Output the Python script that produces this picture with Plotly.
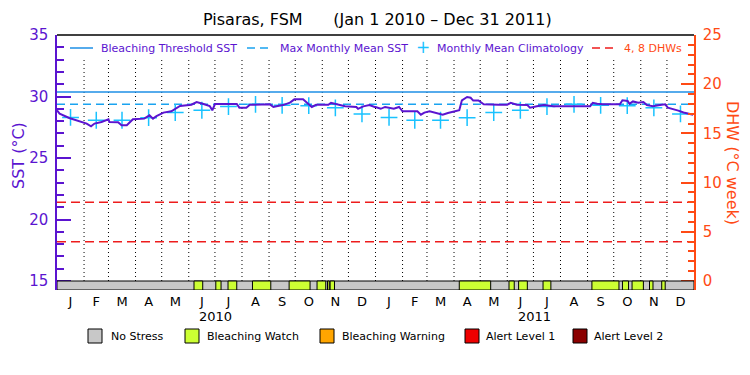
import plotly.graph_objects as go
import pandas as pd

# ---------------- data ----------------
sst_dates = [
    "2010-01-01", "2010-01-04", "2010-01-15", "2010-01-27", "2010-02-04", "2010-02-09",
    "2010-02-13", "2010-02-21", "2010-03-01", "2010-03-02", "2010-03-12", "2010-03-16",
    "2010-03-22", "2010-03-29", "2010-04-11", "2010-04-17", "2010-04-21", "2010-04-25",
    "2010-05-03", "2010-05-12", "2010-05-22", "2010-06-04", "2010-06-10", "2010-06-17",
    "2010-06-25", "2010-06-28", "2010-07-01", "2010-07-26", "2010-07-29", "2010-08-06",
    "2010-08-10", "2010-09-02", "2010-09-06", "2010-09-11", "2010-09-17", "2010-09-25",
    "2010-09-30", "2010-10-10", "2010-10-16", "2010-10-20", "2010-10-25", "2010-11-08",
    "2010-11-11", "2010-11-17", "2010-11-27", "2010-12-10", "2010-12-12", "2010-12-18",
    "2010-12-25", "2010-12-31",
    "2011-01-01", "2011-01-07", "2011-01-12", "2011-01-22", "2011-01-28", "2011-02-01",
    "2011-02-18", "2011-02-22", "2011-02-26", "2011-03-04", "2011-03-11", "2011-03-15",
    "2011-03-19", "2011-03-25", "2011-04-05", "2011-04-07", "2011-04-10", "2011-04-16",
    "2011-04-20", "2011-04-23", "2011-04-29", "2011-05-05", "2011-05-22", "2011-06-01",
    "2011-06-05", "2011-06-12", "2011-06-24", "2011-06-27", "2011-07-05", "2011-07-13",
    "2011-07-24", "2011-08-12", "2011-09-04", "2011-09-07", "2011-09-12", "2011-09-19",
    "2011-10-08", "2011-10-11", "2011-10-17", "2011-10-19", "2011-10-23", "2011-10-29",
    "2011-11-04", "2011-11-08", "2011-11-15", "2011-11-23", "2011-11-29", "2011-12-02",
    "2011-12-08", "2011-12-14", "2011-12-20", "2011-12-26", "2011-12-31",
]
sst_values = [
    28.88, 28.60, 28.25, 27.98, 27.80, 27.57,
    27.80, 27.93, 28.15, 27.93, 27.90, 27.66,
    27.66, 28.15, 28.20, 28.47, 28.20, 28.40,
    28.69, 28.80, 29.23, 29.33, 29.55, 29.41,
    29.23, 28.88, 29.39, 29.39, 29.09, 29.09,
    29.33, 29.36, 29.15, 29.23, 29.30, 29.50,
    29.77, 29.77, 29.41, 29.15, 29.33, 29.33,
    29.49, 29.36, 29.20, 29.15, 29.00, 29.20,
    29.30, 29.15,
    29.15, 29.00, 29.15, 29.00, 29.15, 28.80,
    28.80, 28.52, 28.69, 28.80, 28.66, 28.57,
    28.52, 28.66, 28.88, 28.88, 29.69, 29.96,
    29.90, 29.67, 29.67, 29.36, 29.33, 29.33,
    29.49, 29.33, 29.30, 29.09, 29.20, 29.30,
    29.20, 29.20, 29.20, 29.49, 29.41, 29.36,
    29.36, 29.69, 29.63, 29.41, 29.60, 29.49,
    29.55, 29.30, 29.20, 29.30, 29.36, 29.09,
    29.00, 28.85, 28.70, 28.57, 28.52,
]

clim_values = [28.30, 28.07, 28.07, 28.28, 28.70, 28.88, 29.18, 29.36, 29.28, 29.25, 29.08, 28.58]
mmm_sst = 29.36
threshold_sst = 30.36
dhw_levels = [4, 8]

watch_start = [
    "2010-06-07", "2010-07-02", "2010-07-16", "2010-08-13", "2010-09-24", "2010-10-26",
    "2010-11-07", "2010-11-10",
    "2011-04-07", "2011-06-03", "2011-06-14", "2011-07-12", "2011-09-06", "2011-10-11",
    "2011-10-22", "2011-11-11", "2011-11-25",
]
watch_end = [
    "2010-06-17", "2010-07-08", "2010-07-26", "2010-09-03", "2010-10-18", "2010-11-05",
    "2010-11-09", "2010-11-15",
    "2011-05-13", "2011-06-09", "2011-06-24", "2011-07-21", "2011-10-07", "2011-10-18",
    "2011-11-04", "2011-11-15", "2011-11-29",
]

month_letters = ["J", "F", "M", "A", "M", "J", "J", "A", "S", "O", "N", "D"]
years = [2010, 2011]
stress_names = ["No Stress", "Bleaching Watch", "Bleaching Warning", "Alert Level 1", "Alert Level 2"]
stress_colors = ["#c8c8c8", "#ccff33", "#ffa500", "#ee0000", "#8b0000"]

# ---------------- styling ----------------
PURPLE = "#5b14d0"
ORANGE = "#ff4a14"
THR_BLUE = "#1e8fe6"
MMM_BLUE = "#1aa3f0"
CLIM_CYAN = "#19c2ff"
DHW_RED = "#ee1c1c"
FONT = "DejaVu Sans"

X0, X1 = "2010-01-01", "2012-01-01"
Y_LOW, Y_HIGH = 14.268, 35
Y2_LOW, Y2_HIGH = -0.915, 25

L, R, T, B = 57, 56, 35, 85
W, H = 750, 375
PW, PH = W - L - R, H - T - B


def px(xp):
    return (xp - L) / PW


def py(yp):
    return (H - B - yp) / PH


month_starts = pd.date_range("2010-01-01", "2012-01-01", freq="MS")
mid_months = [month_starts[i] + (month_starts[i + 1] - month_starts[i]) / 2 for i in range(24)]

fig = go.Figure()

fig.add_trace(go.Scatter(x=[X0, X1], y=[threshold_sst] * 2, mode="lines",
                         line=dict(color=THR_BLUE, width=1.5), showlegend=False, hoverinfo="skip"))
fig.add_trace(go.Scatter(x=[X0, X1], y=[mmm_sst] * 2, mode="lines",
                         line=dict(color=MMM_BLUE, width=1.5, dash="8px,5px"), showlegend=False,
                         hoverinfo="skip"))
for lev in dhw_levels:
    fig.add_trace(go.Scatter(x=[X0, X1], y=[lev] * 2, mode="lines", yaxis="y2",
                             line=dict(color=DHW_RED, width=1.5, dash="9px,5px"), showlegend=False,
                             hoverinfo="skip"))
fig.add_trace(go.Scatter(x=mid_months, y=clim_values * len(years), mode="markers",
                         marker=dict(symbol="cross-thin", size=12, line=dict(color=CLIM_CYAN, width=1.5)),
                         showlegend=False))
fig.add_trace(go.Scatter(x=sst_dates, y=sst_values, mode="lines",
                         line=dict(color=PURPLE, width=2), showlegend=False))

shapes = []
# dotted month separators (below the legend row)
for ms in month_starts[1:-1]:
    shapes.append(dict(type="line", xref="x", yref="paper", x0=ms, x1=ms, y0=py(281), y1=py(60),
                       line=dict(color="black", width=1, dash="1px,3px"), layer="below"))
# stress bar
shapes.append(dict(type="rect", xref="x", yref="y", x0=X0, x1=X1, y0=Y_LOW, y1=15,
                   fillcolor=stress_colors[0], line=dict(color="black", width=1), layer="above"))
for s, e in zip(watch_start, watch_end):
    shapes.append(dict(type="rect", xref="x", yref="y", x0=s, x1=e, y0=Y_LOW, y1=15,
                       fillcolor=stress_colors[1], line=dict(color="black", width=1), layer="above"))
# top border
shapes.append(dict(type="line", xref="paper", yref="paper", x0=0, x1=1, y0=1, y1=1,
                   line=dict(color="black", width=1.5)))

annotations = []
annotations.append(dict(text="Pisaras, FSM\u00a0\u00a0\u00a0\u00a0\u00a0\u00a0(Jan 1 2010 \u2013 Dec 31 2011)",
                        xref="paper", yref="paper", x=px(377), y=py(20), showarrow=False,
                        font=dict(family=FONT, size=16, color="black"), xanchor="center", yanchor="middle"))

# top legend
leg_y = 48
shapes.append(dict(type="line", xref="paper", yref="paper", x0=px(70), x1=px(93), y0=py(leg_y), y1=py(leg_y),
                   line=dict(color=THR_BLUE, width=1.5)))
shapes.append(dict(type="line", xref="paper", yref="paper", x0=px(247), x1=px(271), y0=py(leg_y), y1=py(leg_y),
                   line=dict(color=MMM_BLUE, width=1.5, dash="8px,5px")))
shapes.append(dict(type="line", xref="paper", yref="paper", x0=px(592), x1=px(616), y0=py(leg_y), y1=py(leg_y),
                   line=dict(color=DHW_RED, width=1.5, dash="8px,5px")))
for txt, xx, col in [("Bleaching Threshold SST", 99, PURPLE), ("Max Monthly Mean SST", 278, PURPLE),
                     ("Monthly Mean Climatology", 435, PURPLE), ("4, 8 DHWs", 622, ORANGE)]:
    annotations.append(dict(text=txt, xref="paper", yref="paper", x=px(xx), y=py(leg_y), showarrow=False,
                            xanchor="left", yanchor="middle", font=dict(family=FONT, size=11, color=col)))
annotations.append(dict(text="+", xref="paper", yref="paper", x=px(423), y=py(leg_y - 1), showarrow=False,
                        xanchor="center", yanchor="middle", font=dict(family=FONT, size=17, color=CLIM_CYAN)))

# bottom legend
bl_y = 336
for name, col, sx, tx in zip(stress_names, stress_colors, [88, 185, 320, 465, 573], [109, 205, 340, 484, 592]):
    shapes.append(dict(type="rect", xref="paper", yref="paper", x0=px(sx), x1=px(sx + 14),
                       y0=py(bl_y + 7), y1=py(bl_y - 7), fillcolor=col, line=dict(color="black", width=1)))
    annotations.append(dict(text=name, xref="paper", yref="paper", x=px(tx), y=py(bl_y), showarrow=False,
                            xanchor="left", yanchor="middle", font=dict(family=FONT, size=11, color="black")))

# year labels
for yr in years:
    annotations.append(dict(text=str(yr), xref="x", yref="paper", x=f"{yr}-07-02", y=py(316), showarrow=False,
                            xanchor="center", yanchor="middle", font=dict(family=FONT, size=13, color="black")))

# axis titles
annotations.append(dict(text="SST (\u00b0C)", xref="paper", yref="paper", x=px(18), y=py(156), showarrow=False,
                        textangle=-90, xanchor="center", yanchor="middle",
                        font=dict(family=FONT, size=16, color=PURPLE)))
annotations.append(dict(text="DHW (\u00b0C week)", xref="paper", yref="paper", x=px(733), y=py(163),
                        showarrow=False, textangle=90, xanchor="center", yanchor="middle",
                        font=dict(family=FONT, size=16, color=ORANGE)))

fig.update_layout(
    width=W, height=H,
    margin=dict(l=L, r=R, t=T, b=B, pad=0),
    paper_bgcolor="white", plot_bgcolor="white",
    showlegend=False,
    shapes=shapes, annotations=annotations,
    xaxis=dict(type="date", range=[X0, X1], showgrid=False, zeroline=False, showline=False,
               tickmode="array", tickvals=mid_months, ticktext=month_letters * len(years), ticks="",
               tickfont=dict(family=FONT, size=13, color="black"), ticklabelstandoff=2),
    yaxis=dict(range=[Y_LOW, Y_HIGH], tick0=0, dtick=5, showgrid=False, zeroline=False,
               showline=True, linecolor=PURPLE, linewidth=1.5,
               ticks="inside", ticklen=14, tickwidth=1.5, tickcolor=PURPLE,
               tickfont=dict(family=FONT, size=15, color=PURPLE), ticklabelstandoff=4,
               minor=dict(ticks="inside", dtick=1, tick0=0, ticklen=7, tickwidth=1.5, tickcolor=PURPLE)),
    yaxis2=dict(range=[Y2_LOW, Y2_HIGH], overlaying="y", side="right", tick0=0, dtick=5,
                showgrid=False, zeroline=False, showline=True, linecolor=ORANGE, linewidth=1.5,
                ticks="inside", ticklen=13, tickwidth=1.5, tickcolor=ORANGE,
                tickfont=dict(family=FONT, size=15, color=ORANGE), ticklabelstandoff=4,
                minor=dict(ticks="inside", dtick=1, tick0=0, ticklen=6, tickwidth=1.5, tickcolor=ORANGE)),
)

fig.write_html("out.html", config={"displayModeBar": False},
               post_script="document.body.style.margin='0px';")
